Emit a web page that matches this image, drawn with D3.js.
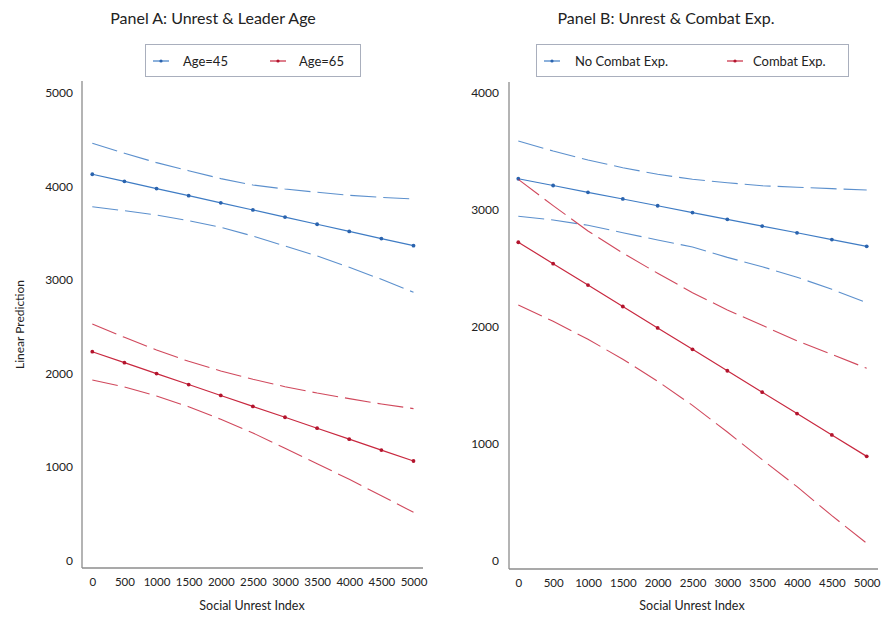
<!DOCTYPE html>
<html>
<head>
<meta charset="utf-8">
<script src="https://cdn.jsdelivr.net/npm/d3@7"></script>
<style>
  body { margin: 0; background: #fff; }
  text { font-family: Lato, "Open Sans", sans-serif; fill: #222; }
</style>
</head>
<body>
<div id="chart"></div>
<script>
/* Two-panel Stata-style marginal effects plot */

const width = 881, height = 619;

// data: predictions at each unrest value
const unrest = [0, 500, 1000, 1500, 2000, 2500, 3000, 3500, 4000, 4500, 5000];

// Panel A
const ageLabels = ["Age=45", "Age=65"];
const age45 = [4131, 4055, 3978, 3902, 3825, 3749, 3673, 3596, 3520, 3443, 3367];
const age45Hi = [4462, 4355, 4255, 4169, 4084, 4016, 3973, 3938, 3906, 3884, 3866];
const age45Lo = [3784, 3741, 3695, 3634, 3563, 3470, 3364, 3257, 3136, 3007, 2869];
const age65 = [2233, 2116, 1999, 1882, 1765, 1648, 1532, 1415, 1298, 1181, 1064];
const age65Hi = [2529, 2387, 2251, 2130, 2027, 1938, 1859, 1791, 1731, 1674, 1624];
const age65Lo = [1930, 1856, 1759, 1645, 1510, 1364, 1200, 1035, 868, 693, 515];

// Panel B
const combatLabels = ["No Combat Exp.", "Combat Exp."];
const noCombat = [3263, 3205, 3147, 3090, 3032, 2974, 2916, 2858, 2801, 2743, 2685];
const noCombatHi = [3585, 3500, 3423, 3357, 3301, 3258, 3229, 3203, 3190, 3178, 3167];
const noCombatLo = [2942, 2910, 2865, 2802, 2739, 2680, 2591, 2511, 2421, 2318, 2204];
const combat = [2720, 2537, 2354, 2171, 1988, 1805, 1622, 1439, 1256, 1073, 890];
const combatHi = [3258, 3033, 2816, 2628, 2455, 2289, 2141, 2010, 1878, 1762, 1643];
const combatLo = [2184, 2044, 1891, 1720, 1532, 1326, 1098, 862, 631, 383, 147];

const xTicks = unrest;
const yTicksA = [0, 1000, 2000, 3000, 4000, 5000];
const yTicksB = [0, 1000, 2000, 3000, 4000];

const blue = "#3f7cc4", red = "#c8283f";
const blueDot = "#2a63ae", redDot = "#b3142d";

const svg = d3.select("#chart")
  .append("svg")
  .attr("width", width)
  .attr("height", height);

const panels = [
  {
    title: "Panel A: Unrest & Leader Age", titleX: 213,
    frame: { left: 82, right: 423, top: 81, bottom: 568 },
    xRange: [92.3, 413.5], yMax: 5000, yTop: 93, yTicks: yTicksA,
    legend: { x: 145, w: 215, labels: ageLabels, sampleX: [153, 270], textX: [183, 299] },
    series: [[age45, age45Lo, age45Hi], [age65, age65Lo, age65Hi]],
    yTitle: "Linear Prediction", xTitleX: 252, yPad: 9
  },
  {
    title: "Panel B: Unrest & Combat Exp.", titleX: 666,
    frame: { left: 509, right: 878, top: 82, bottom: 569 },
    xRange: [518.3, 866.7], yMax: 4000, yTop: 92.5, yTicks: yTicksB,
    legend: { x: 536, w: 312, labels: combatLabels, sampleX: [544, 727], textX: [575, 753] },
    series: [[noCombat, noCombatLo, noCombatHi], [combat, combatLo, combatHi]],
    yTitle: null, xTitleX: 692, yPad: 10
  }
];

const colors = [blue, red], dotColors = [blueDot, redDot];

panels.forEach(p => {
  const f = p.frame;
  const x = d3.scaleLinear().domain([0, 5000]).range(p.xRange);
  const y = d3.scaleLinear().domain([0, p.yMax]).range([560.5, p.yTop]);

  // title
  svg.append("text")
    .attr("x", p.titleX)
    .attr("y", 24)
    .attr("text-anchor", "middle")
    .style("font-size", "16px")
    .text(p.title);

  // legend
  const lg = svg.append("g");
  lg.append("rect")
    .attr("x", p.legend.x + 0.5).attr("y", 44.5)
    .attr("width", p.legend.w).attr("height", 32)
    .attr("fill", "#fff")
    .attr("stroke", "#a9afbd");
  p.legend.labels.forEach((lab, i) => {
    const sx = p.legend.sampleX[i];
    lg.append("line")
      .attr("x1", sx).attr("x2", sx + 16)
      .attr("y1", 61).attr("y2", 61)
      .attr("stroke", colors[i]).attr("stroke-width", 1.2);
    lg.append("circle")
      .attr("cx", sx + 8).attr("cy", 61).attr("r", 1.6)
      .attr("fill", dotColors[i]);
    lg.append("text")
      .attr("x", p.legend.textX[i]).attr("y", 65.5)
      .style("font-size", "13px")
      .text(lab);
  });

  // axis lines
  svg.append("line")
    .attr("x1", f.left).attr("x2", f.left)
    .attr("y1", f.top).attr("y2", f.bottom)
    .attr("stroke", "#8c8c8c").attr("stroke-width", 1.3);
  svg.append("line")
    .attr("x1", f.left).attr("x2", f.right)
    .attr("y1", f.bottom).attr("y2", f.bottom)
    .attr("stroke", "#8c8c8c").attr("stroke-width", 1.3);

  // ticks
  const yAxis = svg.append("g")
    .attr("transform", `translate(${f.left},0)`)
    .call(d3.axisLeft(y).tickValues(p.yTicks).tickSize(0).tickPadding(p.yPad).tickFormat(d3.format("d")));
  yAxis.select(".domain").remove();
  yAxis.selectAll("text").style("font-size", "12px").style("font-family", "Lato, sans-serif").attr("fill", "#222");

  const xAxis = svg.append("g")
    .attr("transform", `translate(0,${f.bottom})`)
    .call(d3.axisBottom(x).tickValues(xTicks).tickSize(0).tickPadding(10).tickFormat(d3.format("d")));
  xAxis.select(".domain").remove();
  xAxis.selectAll("text").style("font-size", "11.5px").style("font-family", "Lato, sans-serif").attr("fill", "#222");

  svg.append("text")
    .attr("x", p.xTitleX).attr("y", 610)
    .attr("text-anchor", "middle")
    .style("font-size", "12.5px")
    .text("Social Unrest Index");

  if (p.yTitle) {
    svg.append("text")
      .attr("transform", `translate(24,${(f.top + f.bottom) / 2}) rotate(-90)`)
      .attr("text-anchor", "middle")
      .style("font-size", "12px")
      .text(p.yTitle);
  }

  const line = d3.line()
    .x((d, i) => x(unrest[i]))
    .y(d => y(d));

  p.series.forEach((s, si) => {
    const [mid, lo, hi] = s;
    [lo, hi].forEach(ci => {
      svg.append("path")
        .datum(ci)
        .attr("d", line)
        .attr("fill", "none")
        .attr("stroke", colors[si])
        .attr("stroke-opacity", 0.85)
        .attr("stroke-width", 1.1)
        .attr("stroke-dasharray", "26,7");
    });
    svg.append("path")
      .datum(mid)
      .attr("d", line)
      .attr("fill", "none")
      .attr("stroke", colors[si])
      .attr("stroke-width", 1.2);
    svg.selectAll(null)
      .data(mid)
      .join("circle")
      .attr("cx", (d, i) => x(unrest[i]))
      .attr("cy", d => y(d))
      .attr("r", 1.9)
      .attr("fill", dotColors[si]);
  });
});
</script>
</body>
</html>
